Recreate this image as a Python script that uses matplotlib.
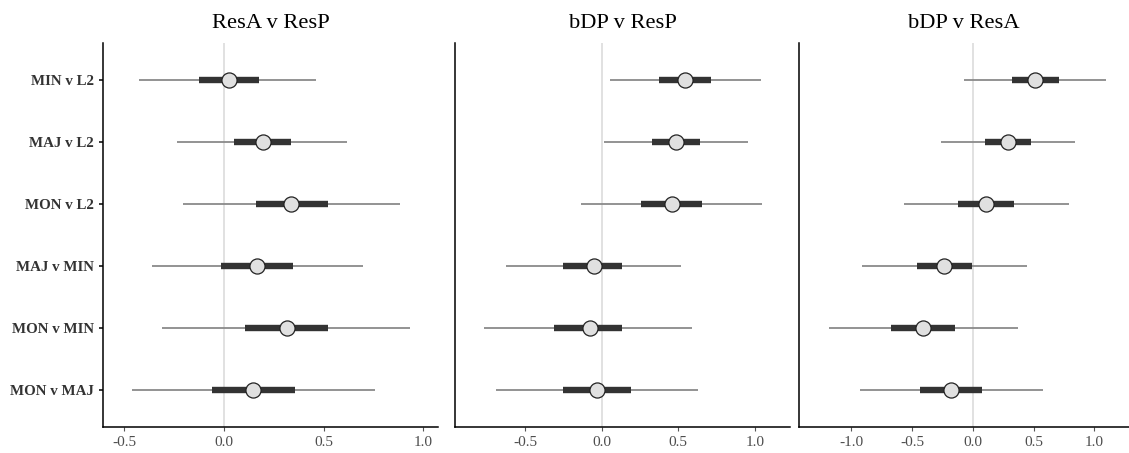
import numpy as np
import matplotlib
matplotlib.use("Agg")
import matplotlib.pyplot as plt

plt.rcParams['font.family'] = ['Liberation Serif', 'DejaVu Serif']

# comparisons, top to bottom
labels = ["MIN v L2", "MAJ v L2", "MON v L2", "MAJ v MIN", "MON v MIN", "MON v MAJ"]
titles = ["ResA v ResP", "bDP v ResP", "bDP v ResA"]

# panel 1: ResA v ResP
p1_mid = [0.027, 0.194, 0.338, 0.167, 0.315, 0.147]
p1_lo50 = [-0.124, 0.050, 0.159, -0.013, 0.106, -0.062]
p1_hi50 = [0.174, 0.337, 0.521, 0.345, 0.521, 0.355]
p1_lo95 = [-0.426, -0.238, -0.206, -0.363, -0.310, -0.461]
p1_hi95 = [0.462, 0.617, 0.884, 0.700, 0.935, 0.759]

# panel 2: bDP v ResP
p2_mid = [0.543, 0.485, 0.456, -0.048, -0.078, -0.028]
p2_lo50 = [0.376, 0.326, 0.256, -0.250, -0.313, -0.250]
p2_hi50 = [0.711, 0.641, 0.654, 0.134, 0.134, 0.191]
p2_lo95 = [0.054, 0.017, -0.135, -0.626, -0.766, -0.689]
p2_hi95 = [1.037, 0.957, 1.048, 0.515, 0.587, 0.630]

# panel 3: bDP v ResA
p3_mid = [0.513, 0.285, 0.110, -0.236, -0.409, -0.181]
p3_lo50 = [0.321, 0.099, -0.121, -0.458, -0.675, -0.436]
p3_hi50 = [0.710, 0.475, 0.340, -0.005, -0.151, 0.074]
p3_lo95 = [-0.071, -0.266, -0.565, -0.911, -1.183, -0.926]
p3_hi95 = [1.094, 0.842, 0.790, 0.442, 0.368, 0.579]

panels = [
    (p1_mid, p1_lo50, p1_hi50, p1_lo95, p1_hi95),
    (p2_mid, p2_lo50, p2_hi50, p2_lo95, p2_hi95),
    (p3_mid, p3_lo50, p3_hi50, p3_lo95, p3_hi95),
]
xlims = [(-0.608, 1.075), (-0.957, 1.229), (-1.43, 1.284)]
xticks = [[-0.5, 0.0, 0.5, 1.0], [-0.5, 0.0, 0.5, 1.0], [-1.0, -0.5, 0.0, 0.5, 1.0]]

W, H = 1129, 453
fig = plt.figure(figsize=(W / 100, H / 100), dpi=100)
# axes boxes in pixels: left, right
boxes = [(103, 438), (455, 790), (799, 1129)]
top, bottom = 43, 427

y = np.arange(len(labels))[::-1] + 1

for i, (data, (l, r)) in enumerate(zip(panels, boxes)):
    mid, lo50, hi50, lo95, hi95 = [np.array(d) for d in data]
    ax = fig.add_axes([l / W, 1 - bottom / H, (r - l) / W, (bottom - top) / H])
    ax.axvline(0, color='#dcdcdc', lw=1.2, zorder=0)
    ax.hlines(y, lo95, hi95, color='#8a8a8a', lw=1.3, zorder=1)
    ax.hlines(y, lo50, hi50, color='#333333', lw=4.6, zorder=2)
    ax.scatter(mid, y, s=118, facecolor='#e0e0e0', edgecolor='#222222',
               linewidth=0.9, zorder=3)
    ax.set_xlim(*xlims[i])
    ax.set_ylim(0.4, 6.6)
    ax.set_xticks(xticks[i])
    ax.set_xticklabels([f"{t:.1f}" for t in xticks[i]])
    ax.tick_params(axis='x', colors='#555555', labelsize=11, length=3, width=0.8)
    ax.tick_params(axis='x', labelcolor='#4d4d4d')
    for s in ['top', 'right']:
        ax.spines[s].set_visible(False)
    for s in ['left', 'bottom']:
        ax.spines[s].set_linewidth(1.1)
        ax.spines[s].set_color('black')
    ax.set_title(titles[i], fontsize=16.2, pad=11)
    if i == 0:
        ax.set_yticks(y)
        ax.set_yticklabels(labels, fontweight='bold', fontsize=10.8, color='#333333')
        ax.tick_params(axis='y', length=3, width=1.1, colors='black')
        ax.tick_params(axis='y', labelcolor='#333333')
    else:
        ax.set_yticks([])

fig.savefig("out.png", dpi=100, facecolor='white')
